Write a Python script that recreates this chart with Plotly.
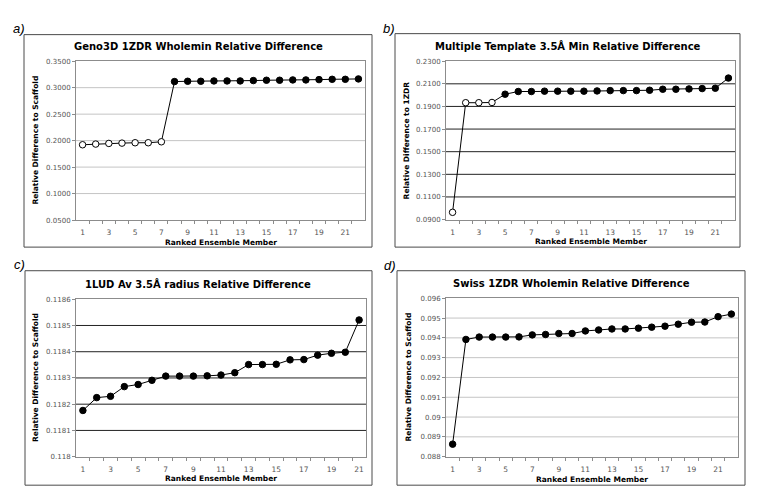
import plotly.graph_objects as go

W, H = 760, 492

# ---------------- data ----------------
members_a = list(range(1, 23))
values_a = [0.1922, 0.1935, 0.1947, 0.1953, 0.1960, 0.1960, 0.1978,
            0.3115, 0.3121, 0.3121, 0.3127, 0.3127, 0.3127, 0.3134, 0.3140,
            0.3140, 0.3146, 0.3146, 0.3152, 0.3158, 0.3158, 0.3165]
open_a = 7

members_b = list(range(1, 23))
values_b = [0.0964, 0.1933, 0.1933, 0.1935, 0.2008, 0.2032, 0.2032, 0.2035,
            0.2035, 0.2035, 0.2035, 0.2037, 0.2040, 0.2040, 0.2040, 0.2043,
            0.2052, 0.2052, 0.2055, 0.2058, 0.2061, 0.2151]
open_b = 4

members_c = list(range(1, 22))
values_c = [0.118176, 0.118225, 0.118230, 0.118267, 0.118275, 0.118291,
            0.118307, 0.118307, 0.118307, 0.118308, 0.118311, 0.118320,
            0.118351, 0.118351, 0.118352, 0.118369, 0.118370, 0.118387,
            0.118394, 0.118398, 0.118521]
open_c = 0

members_d = list(range(1, 23))
values_d = [0.08863, 0.09392, 0.09404, 0.09404, 0.09404, 0.09405, 0.09415,
            0.09417, 0.09422, 0.09422, 0.09435, 0.09440, 0.09445, 0.09445,
            0.09449, 0.09454, 0.09459, 0.09469, 0.09479, 0.09480, 0.09507,
            0.09520]
open_d = 0

ticks_a = [0.05, 0.10, 0.15, 0.20, 0.25, 0.30, 0.35]
ticktext_a = ["0.0500", "0.1000", "0.1500", "0.2000", "0.2500", "0.3000", "0.3500"]
ticks_b = [0.09, 0.11, 0.13, 0.15, 0.17, 0.19, 0.21, 0.23]
ticktext_b = ["0.0900", "0.1100", "0.1300", "0.1500", "0.1700", "0.1900", "0.2100", "0.2300"]
ticks_c = [0.1180, 0.1181, 0.1182, 0.1183, 0.1184, 0.1185, 0.1186]
ticktext_c = ["0.118", "0.1181", "0.1182", "0.1183", "0.1184", "0.1185", "0.1186"]
ticks_d = [0.088, 0.089, 0.090, 0.091, 0.092, 0.093, 0.094, 0.095, 0.096]
ticktext_d = ["0.088", "0.089", "0.09", "0.091", "0.092", "0.093", "0.094", "0.095", "0.096"]

titles = ["Geno3D 1ZDR Wholemin Relative Difference",
          "Multiple Template 3.5Å Min Relative Difference",
          "1LUD Av 3.5Å radius Relative Difference",
          "Swiss 1ZDR Wholemin Relative Difference"]
ytitles = ["Relative Difference to Scaffold", "Relative Difference to 1ZDR",
           "Relative Difference to Scaffold", "Relative Difference to Scaffold"]
xtitle = "Ranked Ensemble Member"
letters = ["a)", "b)", "c)", "d)"]

# ---------------- layout geometry (pixels) ----------------
panels = [
    dict(members=members_a, values=values_a, nopen=open_a, ticks=ticks_a, ticktext=ticktext_a,
         plot=(68, 357, 50, 211.5), box=(16, 364, 23, 239), grid="#c4c4c4",
         letter=(11, 17), title_y=35, ytitle_x=28, xtitle_y=234),
    dict(members=members_b, values=values_b, nopen=open_b, ticks=ticks_b, ticktext=ticktext_b,
         plot=(438, 727, 50, 211), box=(387, 732, 22, 239), grid="#222222",
         letter=(381, 17), title_y=35, ytitle_x=398, xtitle_y=233),
    dict(members=members_c, values=values_c, nopen=open_c, ticks=ticks_c, ticktext=ticktext_c,
         plot=(68, 358, 292, 452), box=(17, 364, 263, 481), grid="#222222",
         letter=(11, 257), title_y=276, ytitle_x=28, xtitle_y=474),
    dict(members=members_d, values=values_d, nopen=open_d, ticks=ticks_d, ticktext=ticktext_d,
         plot=(438, 730, 291, 452), box=(389, 737, 263, 481), grid="#c4c4c4",
         letter=(382, 258), title_y=276, ytitle_x=400, xtitle_y=475),
]

FONT = "DejaVu Sans, Verdana, sans-serif"
fig = go.Figure()
shapes = []
annotations = []
layout = {}

for i, p in enumerate(panels):
    n = i + 1
    xa = "xaxis" if n == 1 else f"xaxis{n}"
    ya = "yaxis" if n == 1 else f"yaxis{n}"
    xr = "x" if n == 1 else f"x{n}"
    yr = "y" if n == 1 else f"y{n}"
    x0, x1, y0, y1 = p["plot"]
    cnt = len(p["members"])

    layout[xa] = dict(
        domain=[x0 / W, x1 / W], anchor=yr, range=[0.5, cnt + 0.5],
        tickvals=[m for m in p["members"] if m % 2 == 1],
        ticks="", showgrid=False, zeroline=False,
        showline=True, linecolor="#8c8c8c", linewidth=1, mirror=True,
        tickfont=dict(family=FONT, size=7.5, color="#555555"),
        ticklabelstandoff=5,
        minor=dict(tickvals=[m + 0.5 for m in p["members"][:-1]], ticks="outside",
                   ticklen=3, tickcolor="#8c8c8c", showgrid=False),
        fixedrange=True,
    )
    layout[ya] = dict(
        domain=[1 - y1 / H, 1 - y0 / H], anchor=xr,
        range=[p["ticks"][0], p["ticks"][-1]],
        tickvals=p["ticks"], ticktext=p["ticktext"],
        ticks="outside", ticklen=3, tickcolor="#8c8c8c",
        showgrid=False, zeroline=False,
        showline=True, linecolor="#8c8c8c", linewidth=1, mirror=True,
        tickfont=dict(family=FONT, size=7, color="#555555"),
        fixedrange=True,
    )
    # gridlines at interior tick values
    for t in p["ticks"][1:-1]:
        shapes.append(dict(type="line", xref=f"{xr} domain", yref=yr,
                           x0=0, x1=1, y0=t, y1=t,
                           line=dict(color=p["grid"], width=1), layer="below"))
    # outer panel box
    bx0, bx1, by0, by1 = p["box"]
    shapes.append(dict(type="rect", xref="paper", yref="paper",
                       x0=bx0 / W, x1=bx1 / W, y0=1 - by1 / H, y1=1 - by0 / H,
                       line=dict(color="#4a4a4a", width=1), fillcolor="rgba(0,0,0,0)"))

    colors = ["white"] * p["nopen"] + ["black"] * (cnt - p["nopen"])
    fig.add_trace(go.Scatter(
        x=p["members"], y=p["values"], xaxis=xr, yaxis=yr,
        mode="lines+markers",
        line=dict(color="black", width=1),
        marker=dict(size=6.5, color=colors, line=dict(color="black", width=1)),
        showlegend=False, hoverinfo="skip", cliponaxis=False,
    ))

    annotations.append(dict(text="<b>" + titles[i] + "</b>", xref="paper", yref="paper",
                            x=(bx0 + bx1) / 2 / W, y=1 - p["title_y"] / H,
                            xanchor="center", yanchor="middle", showarrow=False,
                            font=dict(family=FONT, size=10, color="black")))
    annotations.append(dict(text="<b>" + ytitles[i] + "</b>", xref="paper", yref="paper",
                            x=p["ytitle_x"] / W, y=1 - (y0 + y1) / 2 / H, textangle=-90,
                            xanchor="center", yanchor="middle", showarrow=False,
                            font=dict(family=FONT, size=7.5, color="black")))
    annotations.append(dict(text="<b>" + xtitle + "</b>", xref="paper", yref="paper",
                            x=(x0 + x1) / 2 / W, y=1 - p["xtitle_y"] / H,
                            xanchor="center", yanchor="middle", showarrow=False,
                            font=dict(family=FONT, size=7.5, color="black")))
    lx, ly = p["letter"]
    annotations.append(dict(text="<i>" + letters[i] + "</i>", xref="paper", yref="paper",
                            x=lx / W, y=1 - ly / H, xanchor="center", yanchor="middle",
                            showarrow=False,
                            font=dict(family="Liberation Sans, Arial, sans-serif", size=13,
                                      color="black")))

fig.update_layout(
    width=W, height=H, margin=dict(l=0, r=0, t=0, b=0),
    paper_bgcolor="white", plot_bgcolor="white",
    shapes=shapes, annotations=annotations, showlegend=False,
    **layout,
)

fig.write_html("out.html", config={"displayModeBar": False})
